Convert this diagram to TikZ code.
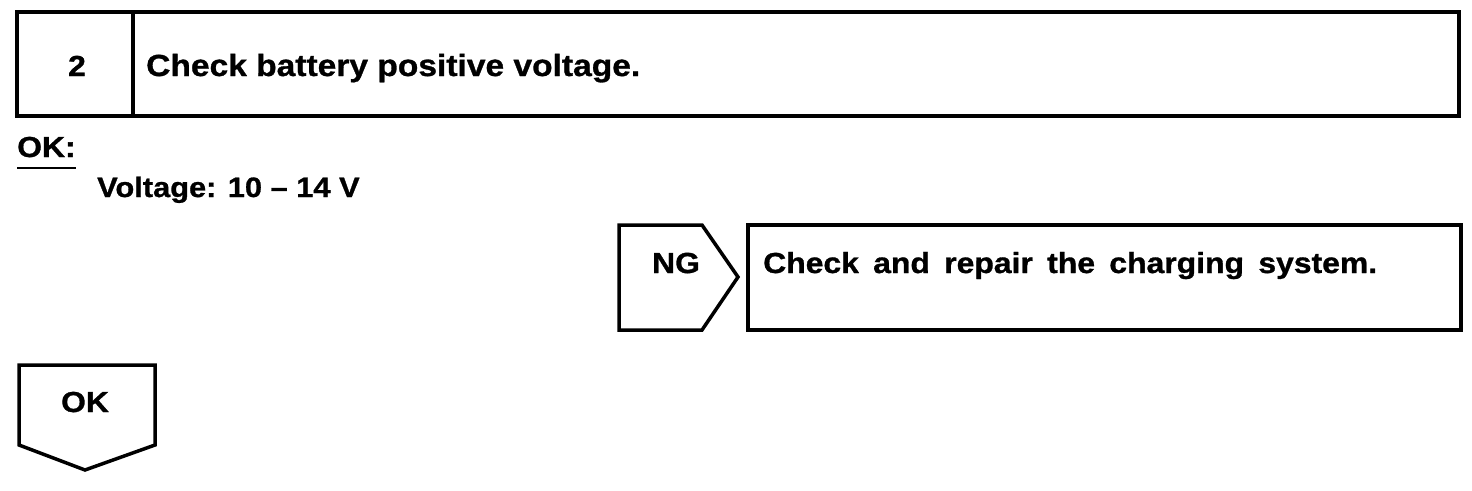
\documentclass[tikz,border=0pt]{standalone}
\usepackage{fontspec}
\setmainfont{Liberation Sans}[BoldFeatures={FakeStretch=1.1,FakeBold=1}]
\begin{document}
\begin{tikzpicture}[x=1pt,y=-1pt,
  box/.style={draw=black,line width=3.5pt,line join=miter},
  txt/.style={inner sep=0pt,anchor=base west,font=\fontsize{29}{32}\selectfont\bfseries},
  ctxt/.style={inner sep=0pt,anchor=base,font=\fontsize{29}{32}\selectfont\bfseries}]
\useasboundingbox (0,0) rectangle (1472,490);
% step box
\draw[box] (17,12) rectangle (1459,116);
\draw[box] (133,12) -- (133,116);
\node[ctxt] (num) at (77,76) {2};
\node[txt,font=\fontsize{30.5}{33}\selectfont\bfseries] (title) at (146,76) {Check battery positive voltage.};
% OK spec
\node[txt] (okl) at (17,157) {OK:};
\draw[line width=2.5pt] (okl.south west |- 0,168) -- (okl.south east |- 0,168);
\node[txt,font=\fontsize{28}{31}\selectfont\bfseries] (volt) at (97,197) {Voltage: 10 -- 14 V};
% NG
\draw[box] (619,225) -- (702,225) -- (738,277) -- (702,330) -- (619,330) -- cycle;
\node[ctxt] (ng) at (676,273) {NG};
\draw[box] (748,225) rectangle (1461,330);
\node[txt] (rep) at (763,273) {\makebox[614pt][s]{Check and repair the charging system.}};
% OK
\draw[box] (19,365) -- (155,365) -- (155,445) -- (85,470) -- (19,445) -- cycle;
\node[ctxt] (ok) at (85,412) {OK};
\end{tikzpicture}
\end{document}
